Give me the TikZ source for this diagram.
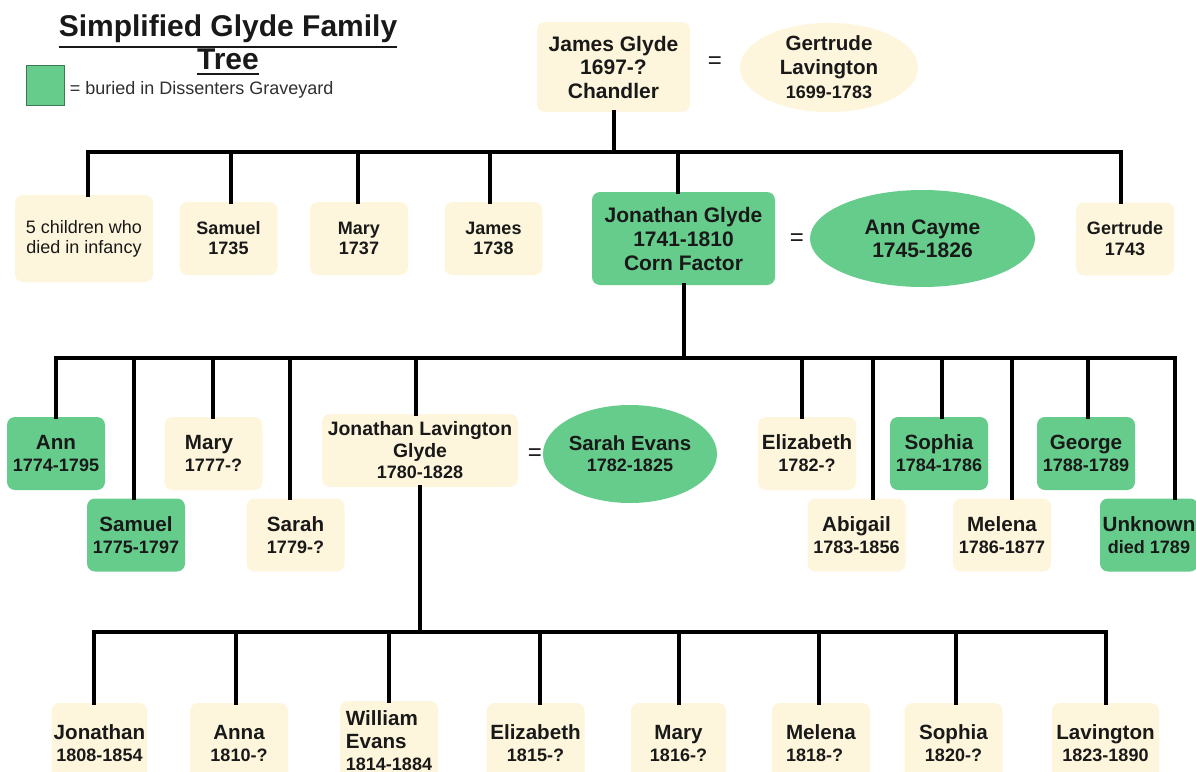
\documentclass[tikz,border=0pt]{standalone}
\usepackage{fontspec}
\setmainfont{Liberation Sans}
\usepackage{tikz}
\usetikzlibrary{positioning,shapes.geometric}

\definecolor{cream}{RGB}{254,246,220}
\definecolor{moss}{RGB}{102,204,140}
\definecolor{ink}{RGB}{25,25,25}

\newcommand{\thickul}[1]{\leavevmode\vtop{\hbox{#1}\kern1.2pt\hrule height 1.1pt}}
\newcommand{\years}[1]{{\fontsize{9}{10.5}\selectfont #1}}

\begin{document}
\begin{tikzpicture}[x=0.5pt,y=-0.5pt,
      every node/.style={font=\bfseries\fontsize{10.3}{11}\selectfont,text=ink,align=center,inner sep=1pt},
      kin/.style={fill=cream,rounded corners=4pt,minimum width=49pt,minimum height=36.5pt},
      dissenter/.style={kin,fill=moss},
      spouse/.style={ellipse,fill=cream,inner sep=0pt},
      small/.style={font=\bfseries\fontsize{9}{10}\selectfont},
      wed/.style={font=\fontsize{12}{12}\selectfont},
      line/.style={line width=2pt,line cap=rect}]

      \useasboundingbox[fill=white] (0,0) rectangle (1196,772);

      % title and key
      \node[font=\bfseries\fontsize{15}{16.5}\selectfont] (title) at (228,45)
        {\thickul{Simplified Glyde Family}\\\thickul{Tree}};
      \node[draw=moss!60!black,fill=moss,minimum width=19pt,minimum height=20pt,inner sep=0pt] (key) at (45,85) {};
      \node[anchor=west,font=\fontsize{9}{10}\selectfont,text=ink!90] (keytext)
        at ([xshift=1.5pt,yshift=-2.5pt]key.east) {= buried in Dissenters Graveyard};

      % first generation
      \node[kin,minimum width=76.5pt,minimum height=45pt,font=\bfseries\fontsize{10.5}{11.75}\selectfont]
        (jg) at (613.5,67) {James Glyde\\1697-?\\Chandler};
      \node[wed] (eq1) at (715,63) {=};
      \node[spouse,minimum width=89pt,minimum height=42.5pt,font=\bfseries\fontsize{10.3}{12}\selectfont]
        (gl) at (829,67.5) {Gertrude\\Lavington\\\years{1699-1783}};

      % second generation
      \node[kin,minimum width=69pt,minimum height=43.5pt,font=\fontsize{9}{10}\selectfont]
        (inf) at (84,238.5) {5 children who\\died in infancy};
      \node[kin,small] (sam1) at (228.5,238.5) {Samuel\\1735};
      \node[kin,small] (mar1) at (359,238.5) {Mary\\1737};
      \node[kin,small] (jam1) at (493.5,238.5) {James\\1738};
      \node[dissenter,minimum width=91.5pt,minimum height=46.5pt,font=\bfseries\fontsize{10.5}{12}\selectfont]
        (jon1) at (683.5,238.5) {Jonathan Glyde\\1741-1810\\Corn Factor};
      \node[wed] (eq2) at (797,240) {=};
      \node[spouse,fill=moss,minimum width=112.5pt,minimum height=48.5pt,font=\bfseries\fontsize{10.5}{11.5}\selectfont]
        (ac) at (922.5,238.5) {Ann Cayme\\1745-1826};
      \node[kin,small,font=\bfseries\fontsize{9}{10.5}\selectfont] (ger1) at (1125,239) {Gertrude\\1743};

      % third generation
      \node[dissenter] (ann) at (56,453.5) {Ann\\\years{1774-1795}};
      \node[dissenter] (sam2) at (136,535) {Samuel\\\years{1775-1797}};
      \node[kin,align=left] (mar2) at (213.5,453.5) {Mary\\\years{1777-?}};
      \node[kin] (sar2) at (295.5,535) {Sarah\\\years{1779-?}};
      \node[kin,minimum width=98pt,font=\bfseries\fontsize{9.7}{10.75}\selectfont]
        (jl) at (420,450.5) {Jonathan Lavington\\Glyde\\\years{1780-1828}};
      \node[wed] (eq3) at (535,455) {=};
      \node[spouse,fill=moss,minimum width=87pt,minimum height=49pt,font=\bfseries\fontsize{10.2}{10.5}\selectfont]
        (se) at (630,454) {Sarah Evans\\\years{1782-1825}};
      \node[kin] (eli2) at (807,453.5) {Elizabeth\\\years{1782-?}};
      \node[kin] (abi) at (856.5,535) {Abigail\\\years{1783-1856}};
      \node[dissenter] (sop2) at (939,453.5) {Sophia\\\years{1784-1786}};
      \node[kin] (mel2) at (1002,535) {Melena\\\years{1786-1877}};
      \node[dissenter] (geo) at (1086,453.5) {George\\\years{1788-1789}};
      \node[dissenter] (unk) at (1149,535) {Unknown\\\years{died 1789}};

      % fourth generation
      \node[kin,minimum height=40pt,minimum width=47.5pt] (jon3) at (99.5,743) {Jonathan\\\years{1808-1854}};
      \node[kin,minimum height=40pt] (ann3) at (239,743) {Anna\\\years{1810-?}};
      \node[kin,minimum height=40pt,align=left,font=\bfseries\fontsize{10.3}{11.25}\selectfont]
        (wil) at (389,741) {William\\Evans\\\years{1814-1884}};
      \node[kin,minimum height=40pt] (eli3) at (535.5,743) {Elizabeth\\\years{1815-?}};
      \node[kin,minimum height=40pt,minimum width=47.5pt] (mar3) at (678.5,743) {Mary\\\years{1816-?}};
      \node[kin,minimum height=40pt,align=left] (mel3) at (821,743) {Melena\\\years{1818-?}};
      \node[kin,minimum height=40pt] (sop3) at (953.5,743) {Sophia\\\years{1820-?}};
      \node[kin,minimum height=40pt,minimum width=53.5pt] (lav) at (1105.5,743) {Lavington\\\years{1823-1890}};

      % lines of descent
      \coordinate (bar1) at (611,152);
      \coordinate (bar2) at (684,358);
      \coordinate (bar3) at (420,632);

      \draw[line] (jg.south) -- (jg.south |- bar1);
      \foreach \k/\dx in {inf/2,sam1/1,mar1/-0.5,jam1/-2,jon1/-3,ger1/-2}{
        \coordinate (\k-up) at ([xshift=\dx pt]\k.north);
        \draw[line] (\k-up) -- (\k-up |- bar1);
      }
      \draw[line] (inf-up |- bar1) -- (ger1-up |- bar1);

      \draw[line] (jon1.south) -- (jon1.south |- bar2);
      \foreach \k/\dx in {ann/0,sam2/-1,mar2/-0.5,sar2/-3,jl/-2,eli2/-2.5,abi/8,sop2/1.5,mel2/5,geo/1,unk/13}{
        \coordinate (\k-up) at ([xshift=\dx pt]\k.north);
        \draw[line] (\k-up) -- (\k-up |- bar2);
      }
      \draw[line] (ann-up |- bar2) -- (unk-up |- bar2);

      \draw[line] (jl.south) -- (jl.south |- bar3);
      \foreach \k/\dx in {jon3/-3,ann3/-1.5,wil/0,eli3/2,mar3/0,mel3/-1,sop3/1,lav/0}{
        \coordinate (\k-up) at ([xshift=\dx pt]\k.north);
        \draw[line] (\k-up) -- (\k-up |- bar3);
      }
      \draw[line] (jon3-up |- bar3) -- (lav-up |- bar3);
\end{tikzpicture}
\end{document}
